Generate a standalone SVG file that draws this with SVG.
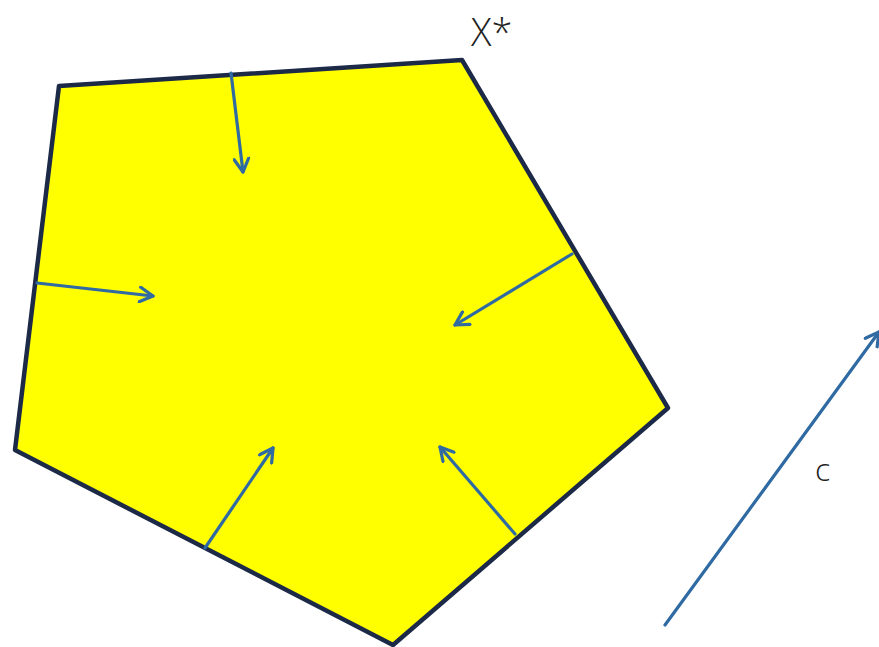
<svg xmlns="http://www.w3.org/2000/svg" width="879" height="647" viewBox="0 0 879 647">
<style>
.arr{stroke:#2F6AA3;stroke-width:3.2;fill:none;stroke-linecap:round}
.lbl{font-family:"Open Sans","Liberation Sans",Arial,sans-serif;font-weight:300;fill:#222}
</style>
<defs>
<marker id="ah" viewBox="0 0 12 12" refX="10" refY="6" markerWidth="5.5" markerHeight="5.5" orient="auto" markerUnits="strokeWidth">
<path d="M1,1 L10,6 L1,11" fill="none" stroke="#2F6AA3" stroke-width="2.2" stroke-linecap="round" stroke-linejoin="round"/>
</marker>
</defs>
<rect width="879" height="647" fill="#fff"/>
<g id="polygon">
<polygon points="59,86 462,60 668,408 393,645 15,450" fill="#FFFF00" stroke="#1C2A48" stroke-width="4.5" stroke-linejoin="round"/>
</g>
<g id="labels">
<text class="lbl" x="471" y="46" font-size="38">X*</text>
<text class="lbl" x="815" y="481" font-size="32" font-weight="400">c</text>
</g>
<g id="connectors">
<line class="arr" x1="231" y1="73" x2="243" y2="172" marker-end="url(#ah)"/>
<line class="arr" x1="37" y1="283" x2="153" y2="296" marker-end="url(#ah)"/>
<line class="arr" x1="572" y1="254" x2="455" y2="325" marker-end="url(#ah)"/>
<line class="arr" x1="205" y1="548" x2="273" y2="448" marker-end="url(#ah)"/>
<line class="arr" x1="515" y1="534" x2="440" y2="447" marker-end="url(#ah)"/>
<line class="arr" x1="665" y1="625" x2="879" y2="332" marker-end="url(#ah)"/>
</g>
</svg>
